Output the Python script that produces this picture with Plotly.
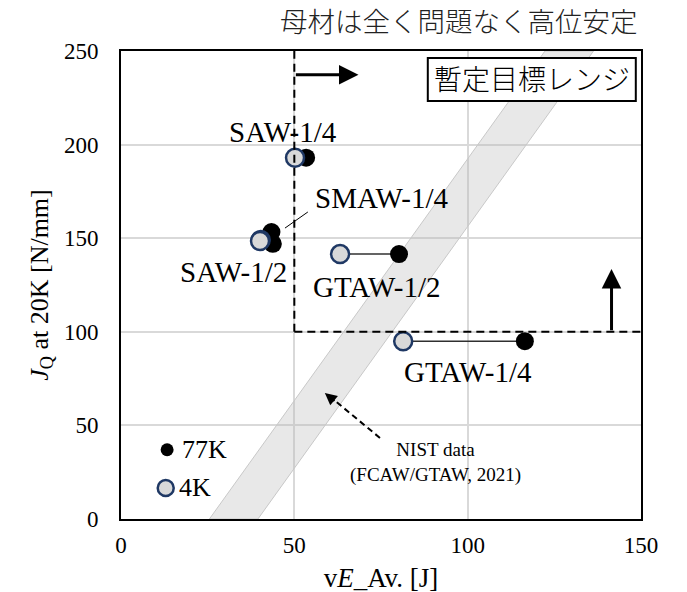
import plotly.graph_objects as go

# ---- data ----
names = ["SAW-1/4", "SMAW-1/4", "SAW-1/2", "GTAW-1/2", "GTAW-1/4"]
ve_77K = [53.4, 43.4, 43.8, 80.2, 116.5]
jq_77K = [193.0, 153.3, 147.0, 141.5, 95.0]
ve_4K = [50.2, 40.3, 40.1, 63.2, 81.4]
jq_4K = [193.0, 149.0, 148.5, 141.5, 95.0]
label_x = [46.7, 75.3, 32.5, 73.8, 100.2]
label_y = [206.7, 171.5, 132.0, 123.7, 78.5]
connected = ["GTAW-1/2", "GTAW-1/4"]

# NIST band (FCAW/GTAW, 2021)
band_x = [25.5, 39.5, 136.3, 122.3, 25.5]
band_y = [0, 0, 250, 250, 0]

ve_target = 50
jq_target = 100

x_ticks = [0, 50, 100, 150]
y_ticks = [0, 50, 100, 150, 200, 250]

SERIF = "Liberation Serif, Times New Roman, serif"
JP = "Noto Sans CJK JP, sans-serif"

fig = go.Figure()

# band
fig.add_trace(go.Scatter(x=band_x, y=band_y, mode="lines", fill="toself",
                         fillcolor="rgba(185,185,185,0.33)",
                         line=dict(color="#c8c8c8", width=1), hoverinfo="skip",
                         showlegend=False))

# connecting lines
for n in connected:
    i = names.index(n)
    fig.add_trace(go.Scatter(x=[ve_4K[i], ve_77K[i]], y=[jq_4K[i], jq_77K[i]],
                             mode="lines", line=dict(color="#303030", width=1.5),
                             showlegend=False, hoverinfo="skip"))

# 77K points
fig.add_trace(go.Scatter(x=ve_77K, y=jq_77K, mode="markers", name="77K",
                         marker=dict(color="black", size=18), showlegend=False))
# 4K points
fig.add_trace(go.Scatter(x=ve_4K, y=jq_4K, mode="markers", name="4K",
                         marker=dict(color="#d9d9d9", size=18,
                                     line=dict(color="#1f3864", width=2.5)),
                         showlegend=False))

# in-plot legend markers
leg_x = [13.3, 12.9]
leg_y = [37.0, 16.6]
fig.add_trace(go.Scatter(x=[leg_x[0]], y=[leg_y[0]], mode="markers",
                         marker=dict(color="black", size=13), showlegend=False))
fig.add_trace(go.Scatter(x=[leg_x[1]], y=[leg_y[1]], mode="markers",
                         marker=dict(color="#d9d9d9", size=16,
                                     line=dict(color="#1f3864", width=2.5)),
                         showlegend=False))

ann = []
for n, lx, ly in zip(names, label_x, label_y):
    ann.append(dict(x=lx, y=ly, xref="x", yref="y", text=n, showarrow=False,
                    font=dict(family=SERIF, size=29, color="black")))
ann.append(dict(x=leg_x[0] + 3.6, y=leg_y[0], xref="x", yref="y", text="77K",
                showarrow=False, xanchor="left",
                font=dict(family=SERIF, size=26, color="black")))
ann.append(dict(x=leg_x[1] + 3.3, y=leg_y[1], xref="x", yref="y", text="4K",
                showarrow=False, xanchor="left",
                font=dict(family=SERIF, size=26, color="black")))
ann.append(dict(x=90.6, y=30, xref="x", yref="y",
                text="NIST data<br>(FCAW/GTAW, 2021)", showarrow=False,
                font=dict(family=SERIF, size=19, color="black")))
# arrows
ann.append(dict(x=68.5, y=237.3, ax=ve_target, ay=237.3, xref="x", yref="y",
                axref="x", ayref="y", showarrow=True, arrowhead=2, arrowsize=1.3,
                arrowwidth=3, arrowcolor="black", text=""))
ann.append(dict(x=141.5, y=133.5, ax=141.5, ay=jq_target, xref="x", yref="y",
                axref="x", ayref="y", showarrow=True, arrowhead=2, arrowsize=1.3,
                arrowwidth=3, arrowcolor="black", text=""))
ann.append(dict(x=58.8, y=67.3, ax=62.0, ay=62.4, xref="x", yref="y",
                axref="x", ayref="y", showarrow=True, arrowhead=2, arrowsize=1.2,
                arrowwidth=2, arrowcolor="black", text=""))
# box text and title
ann.append(dict(x=118.5, y=235.5, xref="x", yref="y", text="暫定目標レンジ",
                showarrow=False, font=dict(family=JP, size=28, color="black", weight=300)))
ann.append(dict(x=0.998, y=1.067, xref="paper", yref="paper",
                xanchor="right", yanchor="middle", text="母材は全く問題なく高位安定",
                showarrow=False, font=dict(family=JP, size=27.5, color="#222", weight=300)))

shapes = [
    dict(type="line", x0=ve_target, x1=ve_target, y0=jq_target, y1=250, xref="x", yref="y",
         line=dict(color="black", width=2, dash="8px,5px")),
    dict(type="line", x0=ve_target, x1=150, y0=jq_target, y1=jq_target, xref="x", yref="y",
         line=dict(color="black", width=2, dash="8px,5px")),
    dict(type="line", x0=74.7, y0=43.3, x1=61.5, y1=63.5, xref="x", yref="y",
         line=dict(color="black", width=2, dash="6px,4px")),
    dict(type="line", x0=47.3, y0=155.4, x1=53.9, y1=164.0, xref="x", yref="y",
         line=dict(color="black", width=1)),
    dict(type="rect", x0=88.5, x1=148.5, y0=223.3, y1=246.3, xref="x", yref="y",
         fillcolor="white", line=dict(color="black", width=2), layer="above"),
]

fig.update_layout(
    width=687, height=592,
    margin=dict(l=113, r=54, t=43, b=81),
    paper_bgcolor="white", plot_bgcolor="white",
    annotations=ann, shapes=shapes,
    showlegend=False,
    font=dict(family=SERIF, size=23, color="black"),
)
fig.update_xaxes(range=[0, 150], tickvals=x_ticks, showgrid=True, gridcolor="#d9d9d9",
                 gridwidth=1.5, zeroline=False, showline=True, linecolor="black",
                 linewidth=2, mirror=True, ticks="outside", ticklen=4,
                 tickcolor="rgba(0,0,0,0)", tickfont=dict(family=SERIF, size=23),
                 automargin=False,
                 title=dict(text="v<i>E</i>_Av. [J]", font=dict(family=SERIF, size=27),
                            standoff=12))
fig.update_yaxes(range=[0, 250], tickvals=y_ticks, showgrid=True, gridcolor="#d9d9d9",
                 gridwidth=1.5, zeroline=False, showline=True, linecolor="black",
                 linewidth=2, mirror=True, ticks="outside", ticklen=16,
                 tickcolor="rgba(0,0,0,0)", tickfont=dict(family=SERIF, size=23),
                 automargin=False,
                 title=dict(text="<i>J</i><sub>Q</sub> at 20K [N/mm]",
                            font=dict(family=SERIF, size=26), standoff=8))

fig.write_html("out.html")
